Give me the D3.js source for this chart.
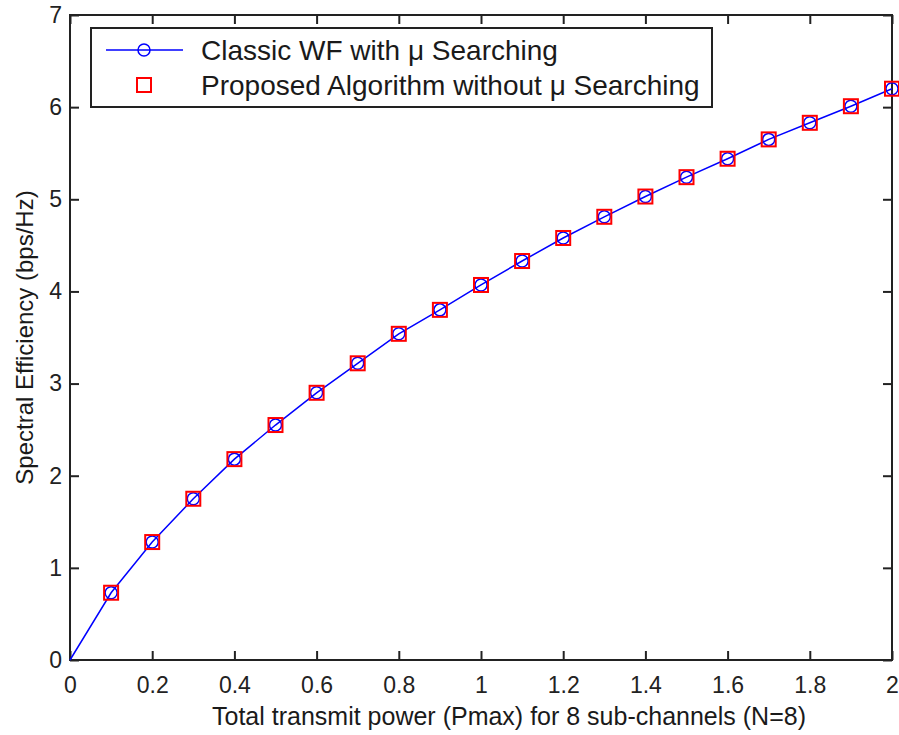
<!DOCTYPE html>
<html>
<head>
<meta charset="utf-8">
<script src="https://cdn.jsdelivr.net/npm/d3@7"></script>
<style>
  body { margin: 0; background: #fff; }
  text { font-family: Arial, "Liberation Sans", sans-serif; }
</style>
</head>
<body>
<div class="chart"></div>
<script>
var powerValues = [0, 0.1, 0.2, 0.3, 0.4, 0.5, 0.6, 0.7, 0.8, 0.9, 1.0, 1.1, 1.2, 1.3, 1.4, 1.5, 1.6, 1.7, 1.8, 1.9, 2.0];
var classicWF = [0, 0.73, 1.28, 1.75, 2.18, 2.55, 2.90, 3.22, 3.54, 3.80, 4.07, 4.33, 4.58, 4.81, 5.03, 5.24, 5.44, 5.65, 5.83, 6.01, 6.20];
var proposedAlg = [0.73, 1.28, 1.75, 2.18, 2.55, 2.90, 3.22, 3.54, 3.80, 4.07, 4.33, 4.58, 4.81, 5.03, 5.24, 5.44, 5.65, 5.83, 6.01, 6.20];
var proposedPower = powerValues.slice(1);
var xTicks = [0, 0.2, 0.4, 0.6, 0.8, 1, 1.2, 1.4, 1.6, 1.8, 2];
var yTicks = [0, 1, 2, 3, 4, 5, 6, 7];
var legendLabels = ["Classic WF with \u03bc Searching", "Proposed Algorithm without \u03bc Searching"];

var margin = { top: 15, right: 7, bottom: 75, left: 70 };
var width = 899 - margin.left - margin.right;
var height = 735 - margin.top - margin.bottom;

var svg = d3.select(".chart").append("svg")
  .attr("width", 899)
  .attr("height", 735);

var chart = svg.append("g")
  .attr("transform", `translate(${margin.left},${margin.top})`);

var xScale = d3.scaleLinear().domain([0, 2]).range([0, width]);
var yScale = d3.scaleLinear().domain([0, 7]).range([height, 0]);

var fmt = d => String(+d.toFixed(1));

// ticks point inward, matlab style, on all four sides
var xAxis = d3.axisBottom(xScale).tickValues(xTicks).tickSize(-9).tickPadding(17).tickFormat(fmt);
var xTop = d3.axisTop(xScale).tickValues(xTicks).tickSize(-9).tickFormat("");
var yAxis = d3.axisLeft(yScale).tickValues(yTicks).tickSize(-9).tickPadding(8).tickFormat(d3.format("d"));
var yRight = d3.axisRight(yScale).tickValues(yTicks).tickSize(-9).tickFormat("");

function styleAxis(g) {
  g.select(".domain").remove();
  g.selectAll(".tick line").attr("stroke", "#222").attr("stroke-width", 2);
  g.selectAll(".tick text").attr("font-size", 23).attr("fill", "#222")
    .attr("font-family", "Arial, 'Liberation Sans', sans-serif");
}

chart.append("g").attr("class", "x axis").attr("transform", `translate(0,${height})`).call(xAxis).call(styleAxis);
chart.append("g").attr("class", "x axis top").call(xTop).call(styleAxis);
chart.append("g").attr("class", "y axis").call(yAxis).call(styleAxis);
chart.append("g").attr("class", "y axis right").attr("transform", `translate(${width},0)`).call(yRight).call(styleAxis);

chart.append("rect")
  .attr("width", width)
  .attr("height", height)
  .attr("fill", "none")
  .attr("stroke", "#222")
  .attr("stroke-width", 2);

// axis titles
chart.append("text")
  .attr("x", width / 2 + 28)
  .attr("y", height + 65)
  .attr("text-anchor", "middle")
  .attr("font-size", 25)
  .attr("fill", "#1a1a1a")
  .text("Total transmit power (Pmax) for 8 sub-channels (N=8)");

chart.append("text")
  .attr("transform", `translate(${-37},${height / 2}) rotate(-90)`)
  .attr("text-anchor", "middle")
  .attr("font-size", 24)
  .attr("fill", "#1a1a1a")
  .text("Spectral Efficiency (bps/Hz)");

// classic WF line with circles
var line = d3.line()
  .x((d, i) => xScale(powerValues[i]))
  .y(d => yScale(d));

chart.append("path")
  .datum(classicWF)
  .attr("fill", "none")
  .attr("stroke", "#0000ff")
  .attr("stroke-width", 1.5)
  .attr("d", line);

chart.selectAll(".circ")
  .data(classicWF.slice(1))
  .enter()
  .append("circle")
  .attr("class", "circ")
  .attr("cx", (d, i) => xScale(powerValues[i + 1]))
  .attr("cy", d => yScale(d))
  .attr("r", 6)
  .attr("fill", "none")
  .attr("stroke", "#0000ff")
  .attr("stroke-width", 1.5);

// proposed algorithm squares
var sq = 14;
chart.selectAll(".sq")
  .data(proposedAlg)
  .enter()
  .append("rect")
  .attr("class", "sq")
  .attr("x", (d, i) => xScale(proposedPower[i]) - sq / 2)
  .attr("y", d => yScale(d) - sq / 2)
  .attr("width", sq)
  .attr("height", sq)
  .attr("fill", "none")
  .attr("stroke", "#ff0000")
  .attr("stroke-width", 2);

// legend
var legend = chart.append("g").attr("transform", `translate(${91 - margin.left},${28 - margin.top})`);
legend.append("rect")
  .attr("width", 621)
  .attr("height", 79)
  .attr("fill", "#fff")
  .attr("stroke", "#222")
  .attr("stroke-width", 2);

legend.append("line")
  .attr("x1", 15).attr("x2", 92)
  .attr("y1", 22).attr("y2", 22)
  .attr("stroke", "#0000ff").attr("stroke-width", 1.5);
legend.append("circle")
  .attr("cx", 53).attr("cy", 22).attr("r", 6)
  .attr("fill", "none").attr("stroke", "#0000ff").attr("stroke-width", 1.5);
legend.append("rect")
  .attr("x", 53 - sq / 2).attr("y", 57 - sq / 2)
  .attr("width", sq).attr("height", sq)
  .attr("fill", "none").attr("stroke", "#ff0000").attr("stroke-width", 2);

legend.selectAll(".leg-text")
  .data(legendLabels)
  .enter()
  .append("text")
  .attr("class", "leg-text")
  .attr("x", 110)
  .attr("y", (d, i) => 22 + i * 35)
  .attr("dy", "0.36em")
  .attr("font-size", 28)
  .attr("fill", "#1a1a1a")
  .text(d => d);
</script>
</body>
</html>
